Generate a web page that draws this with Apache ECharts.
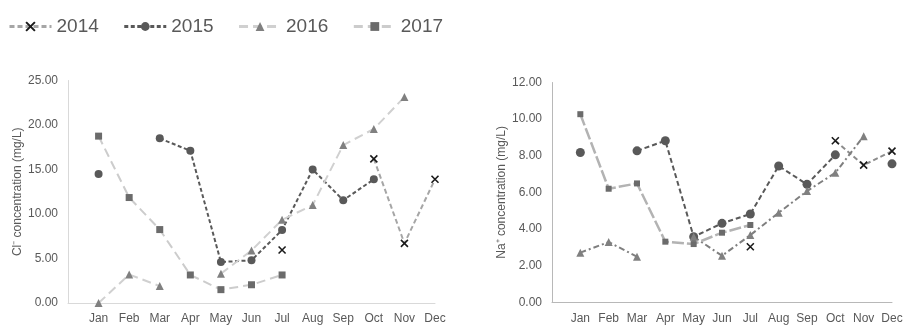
<!DOCTYPE html>
<html>
<head>
<meta charset="utf-8">
<title>Cl- and Na+ concentration by month, 2014-2017</title>
<script src="https://cdn.jsdelivr.net/npm/echarts@6/dist/echarts.min.js"></script>
<style>
  html, body { margin: 0; padding: 0; background: #ffffff; }
  #chart { width: 907px; height: 325px; }
</style>
</head>
<body>
<div id="chart"></div>
<script>
// Month labels for both panels
const months = ['Jan', 'Feb', 'Mar', 'Apr', 'May', 'Jun', 'Jul', 'Aug', 'Sep', 'Oct', 'Nov', 'Dec'];
const years = ['2014', '2015', '2016', '2017'];

// Chloride concentration (mg/L), null = no sample that month
const cl2014 = [null, null, null, null, null, null, 5.95, null, null, 16.2, 6.7, 13.9];
const cl2015 = [14.5, null, 18.5, 17.1, 4.6, 4.8, 8.2, 15.0, 11.55, 13.9, null, null];
const cl2016 = [0.0, 3.2, 1.9, null, 3.3, 5.9, 9.35, 11.0, 17.75, 19.55, 23.15, null];
const cl2017 = [18.75, 11.85, 8.25, 3.15, 1.5, 2.05, 3.15, null, null, null, null, null];

// Sodium concentration (mg/L)
const na2014 = [null, null, null, null, null, null, 3.03, null, null, 8.82, 7.49, 8.25];
const na2015 = [8.18, null, 8.27, 8.82, 3.58, 4.31, 4.82, 7.44, 6.44, 8.05, null, 7.56];
const na2016 = [2.71, 3.29, 2.49, null, 3.58, 2.54, 3.67, 4.89, 6.07, 7.07, 9.07, null];
const na2017 = [10.27, 6.2, 6.49, 3.31, 3.18, 3.8, 4.22, null, null, null, null, null];

// Axis ticks
const clTicks = [0, 5, 10, 15, 20, 25];
const naTicks = [0, 2, 4, 6, 8, 10, 12];

const crossPath = 'path://M0,0L10,10M10,0L0,10';

// Pair each monthly value with its month number (1..12) on the value x-axis
const toPairs = arr => arr.map((v, i) => [i + 1, v]);

const markers = {
  '2014': { symbol: crossPath, size: 7, itemStyle: { color: '#1a1a1a', borderColor: '#1a1a1a', borderWidth: 1.6 } },
  '2015': { symbol: 'circle', size: 8, itemStyle: { color: '#595959' } },
  '2016': { symbol: 'triangle', size: 8, itemStyle: { color: '#808080' } },
  '2017': { symbol: 'rect', size: 7, itemStyle: { color: '#6b6b6b' } }
};

function makeSeries(name, data, idx, line, sizeAdj) {
  const m = markers[name];
  return {
    name: name,
    type: 'line',
    xAxisIndex: idx,
    yAxisIndex: idx,
    data: toPairs(data),
    symbol: m.symbol,
    symbolSize: m.size + (sizeAdj || 0),
    showAllSymbol: true,
    connectNulls: false,
    itemStyle: m.itemStyle,
    lineStyle: line,
    emphasis: { disabled: true }
  };
}

const axisLabelStyle = { color: '#595959', fontSize: 12, fontFamily: 'Liberation Sans, Arial, sans-serif' };

function xAxisFor(idx, lineColor) {
  return {
    type: 'value',
    gridIndex: idx,
    min: 0,
    max: 12,
    interval: 1,
    axisLine: { show: true, lineStyle: { color: lineColor, width: 1 } },
    axisTick: { show: false },
    splitLine: { show: false },
    axisLabel: Object.assign({}, axisLabelStyle, {
      margin: 10,
      showMinLabel: false,
      formatter: v => months[v - 1] || ''
    })
  };
}

function yAxisFor(idx, ticks, name, lineColor) {
  return {
    type: 'value',
    gridIndex: idx,
    min: ticks[0],
    max: ticks[ticks.length - 1],
    interval: ticks[1] - ticks[0],
    name: name,
    nameLocation: 'middle',
    nameGap: 44,
    nameRotate: 90,
    nameTextStyle: { color: '#595959', fontSize: 12, fontFamily: 'Liberation Sans, Arial, sans-serif' },
    axisLine: { show: true, lineStyle: { color: lineColor, width: 1 } },
    axisTick: { show: false },
    splitLine: { show: false },
    axisLabel: Object.assign({}, axisLabelStyle, {
      margin: 10,
      formatter: v => v.toFixed(2)
    })
  };
}

const chart = echarts.init(document.getElementById('chart'), null, { renderer: 'canvas' });

chart.setOption({
  animation: false,
  backgroundColor: '#ffffff',
  legend: {
    data: years,
    left: 3,
    top: 12,
    itemWidth: 42,
    itemHeight: 11,
    itemGap: 24,
    lineStyle: { width: 3 },
    textStyle: { color: '#595959', fontSize: 19, fontFamily: 'Liberation Sans, Arial, sans-serif' },
    selectedMode: false
  },
  grid: [
    { left: 68, top: 80.5, width: 367, height: 225.5 },
    { left: 552, top: 82.5, width: 340, height: 219.8 }
  ],
  xAxis: [xAxisFor(0, '#d9d9d9'), xAxisFor(1, '#b8b8b8')],
  yAxis: [
    yAxisFor(0, clTicks, 'Cl\u207B concentration (mg/L)', '#d9d9d9'),
    yAxisFor(1, naTicks, 'Na\u207A concentration (mg/L)', '#b8b8b8')
  ],
  series: [
    makeSeries('2014', cl2014, 0, { color: '#a6a6a6', width: 2, type: [5, 3] }),
    makeSeries('2015', cl2015, 0, { color: '#595959', width: 2, type: [4, 2.5] }),
    makeSeries('2016', cl2016, 0, { color: '#d0d0d0', width: 2, type: [9, 5] }),
    makeSeries('2017', cl2017, 0, { color: '#cccccc', width: 2, type: [9, 5] }),
    makeSeries('2014', na2014, 1, { color: '#8c8c8c', width: 2, type: [5, 3] }),
    makeSeries('2015', na2015, 1, { color: '#595959', width: 2, type: [5, 3] }, 1),
    makeSeries('2016', na2016, 1, { color: '#7f7f7f', width: 2, type: [6, 3, 2, 3] }),
    makeSeries('2017', na2017, 1, { color: '#b3b3b3', width: 2.5, type: [12, 3] }, -1)
  ]
});
</script>
</body>
</html>
